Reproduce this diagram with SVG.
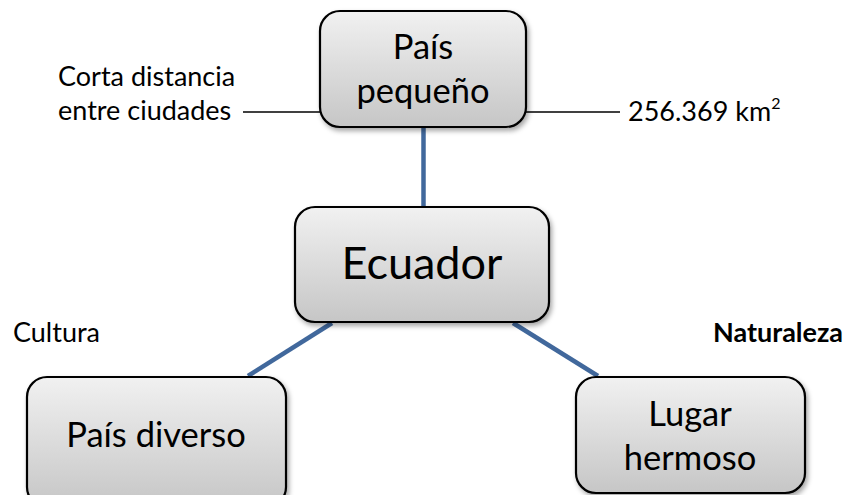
<svg xmlns="http://www.w3.org/2000/svg" width="847" height="495" viewBox="0 0 847 495">
<defs>
<linearGradient id="g" x1="0" y1="0" x2="0" y2="1">
<stop offset="0" stop-color="#f1f1f1"/>
<stop offset="1" stop-color="#c6c6c6"/>
</linearGradient>
<filter id="sh" x="-10%" y="-10%" width="125%" height="130%">
<feDropShadow dx="2" dy="3" stdDeviation="2.5" flood-color="#000" flood-opacity="0.35"/>
</filter>
<style>
.box{fill:url(#g);stroke:#000;stroke-width:2.2;filter:url(#sh)}
.t{font-family:Lato,"Liberation Sans",sans-serif;fill:#000}
.big{font-size:34.5px;text-anchor:middle}
.lbl{font-size:27px}
.blue{stroke:#41689c;stroke-width:4.5;fill:none}
.thin{stroke:#000;stroke-width:1.5;fill:none}
</style>
</defs>
<rect width="847" height="495" fill="#fff"/>
<g id="connectors">
<line class="blue" x1="423.5" y1="127" x2="423.5" y2="207"/>
<line class="blue" x1="332" y1="323" x2="248" y2="376"/>
<line class="blue" x1="513" y1="323" x2="598" y2="376"/>
<line class="thin" x1="243" y1="112" x2="320" y2="112"/>
<line class="thin" x1="526" y1="112" x2="620" y2="112"/>
</g>
<g id="node-pais-pequeno">
<rect class="box" x="320" y="11" width="206" height="116" rx="20"/>
<text class="t big" x="423" y="59">País</text>
<text class="t big" x="423" y="103">pequeño</text>
</g>
<g id="node-ecuador">
<rect class="box" x="295" y="207" width="254" height="115" rx="20"/>
<text class="t" x="422" y="279" font-size="45" text-anchor="middle">Ecuador</text>
</g>
<g id="node-pais-diverso">
<rect class="box" x="27" y="377" width="259" height="130" rx="20"/>
<text class="t big" x="156" y="447">País diverso</text>
</g>
<g id="node-lugar-hermoso">
<rect class="box" x="576" y="377" width="229" height="116" rx="20"/>
<text class="t big" x="690" y="426">Lugar</text>
<text class="t big" x="690" y="470">hermoso</text>
</g>
<g id="labels">
<text class="t lbl" x="58" y="86">Corta distancia</text>
<text class="t lbl" x="58" y="120">entre ciudades</text>
<text class="t lbl" x="628" y="121">256.369 km<tspan font-size="16" dy="-12">2</tspan></text>
<text class="t lbl" x="13" y="342">Cultura</text>
<text class="t lbl" x="713" y="342" font-weight="bold">Naturaleza</text>
</g>
</svg>
